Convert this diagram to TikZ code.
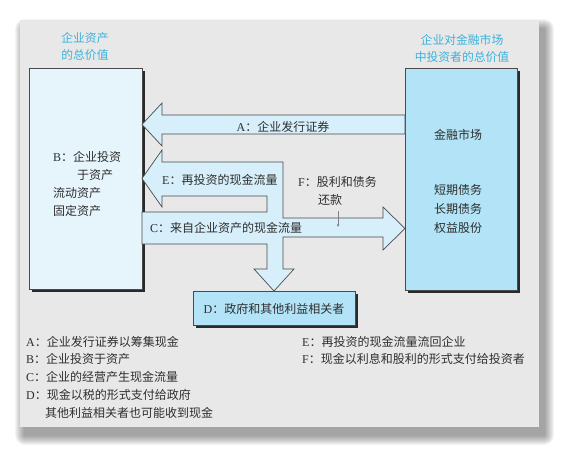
\documentclass[tikz,border=0pt]{standalone}
\usepackage{fontspec}
\setmainfont{Liberation Serif}
\newfontfamily\cjk{Noto Sans CJK SC}
\usetikzlibrary{shadows,arrows.meta}
\definecolor{panelbg}{HTML}{E8E8E8}
\definecolor{lboxfill}{HTML}{E6F5FC}
\definecolor{rboxfill}{HTML}{B2E3F6}
\definecolor{arrowfill}{HTML}{D6EFFA}
\definecolor{edgecol}{HTML}{4A4A4A}
\definecolor{headcol}{HTML}{3AB2DE}
\definecolor{inkcol}{HTML}{2E2E2E}
\definecolor{shadowcol}{HTML}{2A2A2A}
\newcommand{\zh}[1]{{\cjk #1}}
\begin{document}
\begin{tikzpicture}[x=1pt,y=-1pt,
  every node/.style={inner sep=0pt, text=inkcol},
  txt/.style={font=\fontsize{12}{14}\selectfont},
  hdr/.style={font=\fontsize{11.8}{17}\selectfont\cjk, text=headcol, align=center},
  boxbase/.style={draw=edgecol, line width=0.7pt, drop shadow={shadow xshift=3pt, shadow yshift=-3pt, fill=shadowcol, opacity=1}},
  flow/.style={draw=edgecol, line width=0.7pt, fill=arrowfill, line join=miter}]
\useasboundingbox (0,0) rectangle (566,458);
% panel with soft shadow
\foreach \i in {1,...,10}
  \fill[black, opacity=0.045, rounded corners=\i pt] (25-\i,29-\i) rectangle (544+\i,435+\i);
\fill[panelbg] (20,20) rectangle (539,427);
% headers
\node[hdr] (hleft) at (85,47) {企业资产\\的总价值};
\node[hdr] (hright) at (462,49) {企业对金融市场\\中投资者的总价值};
% boxes
\node[boxbase, fill=lboxfill, minimum width=113pt, minimum height=221pt] (assets) at (85.5,178.5) {};
\node[boxbase, fill=rboxfill, minimum width=112pt, minimum height=222pt] (market) at (461,179) {};
\node[boxbase, fill=rboxfill, minimum width=162pt, minimum height=34pt] (gov) at (274,308) {};
% fat arrows
\path[flow] (142,124.5) -- (162,103) -- (162,115) -- (405,115) -- (405,134) -- (162,134) -- (162,146) -- cycle;
\path[flow] (142,212) -- (142,244) -- (267,244) -- (267,269) -- (254,269) -- (274,291) -- (294,269) -- (283,269)
  -- (283,237) -- (383,237) -- (383,250) -- (405,228.5) -- (383,207) -- (383,218) -- (283,218) -- (283,162)
  -- (162,162) -- (162,150) -- (142,178.5) -- (162,207) -- (162,196) -- (267,196) -- (267,212) -- cycle;
% box texts
\node[txt, anchor=west] (b1) at (53,157) {B\zh{：企业投资}};
\node[txt, anchor=west] (b2) at (77,175) {\zh{于资产}};
\node[txt, anchor=west] (b3) at (53,193) {\zh{流动资产}};
\node[txt, anchor=west] (b4) at (53,211) {\zh{固定资产}};
\node[txt] (m1) at (458,135) {\zh{金融市场}};
\node[txt] (m2) at (458,190) {\zh{短期债务}};
\node[txt] (m3) at (458,209) {\zh{长期债务}};
\node[txt] (m4) at (458,228) {\zh{权益股份}};
\node[txt] (gtext) at (274,309) {D\zh{：政府和其他利益相关者}};
% arrow labels
\node[txt] (la) at (283,127) {A\zh{：企业发行证券}};
\node[txt, anchor=west] (le) at (162,180) {E\zh{：再投资的现金流量}};
\node[txt, anchor=west] (lc) at (150,228) {C\zh{：来自企业资产的现金流量}};
\node[txt, anchor=west] (lf1) at (298,182) {F\zh{：股利和债务}};
\node[txt, anchor=west] (lf2) at (318,200) {\zh{还款}};
\coordinate (fs) at (338,211);
\coordinate (fe) at (338,227);
\draw[gray, line width=0.5pt, -{Stealth[length=3pt,width=2.5pt]}] (fs) -- (fe);
% legend
\node[txt, anchor=west] (ga) at (26,342) {A\zh{：企业发行证券以筹集现金}};
\node[txt, anchor=west] (gb) at (26,358.5) {B\zh{：企业投资于资产}};
\node[txt, anchor=west] (gc) at (26,377) {C\zh{：企业的经营产生现金流量}};
\node[txt, anchor=west] (gd) at (26,395) {D\zh{：现金以税的形式支付给政府}};
\node[txt, anchor=west] (gd2) at (45,413) {\zh{其他利益相关者也可能收到现金}};
\node[txt, anchor=west] (ge) at (302,342) {E\zh{：再投资的现金流量流回企业}};
\node[txt, anchor=west] (gf) at (302,358.5) {F\zh{：现金以利息和股利的形式支付给投资者}};
\end{tikzpicture}
\end{document}
